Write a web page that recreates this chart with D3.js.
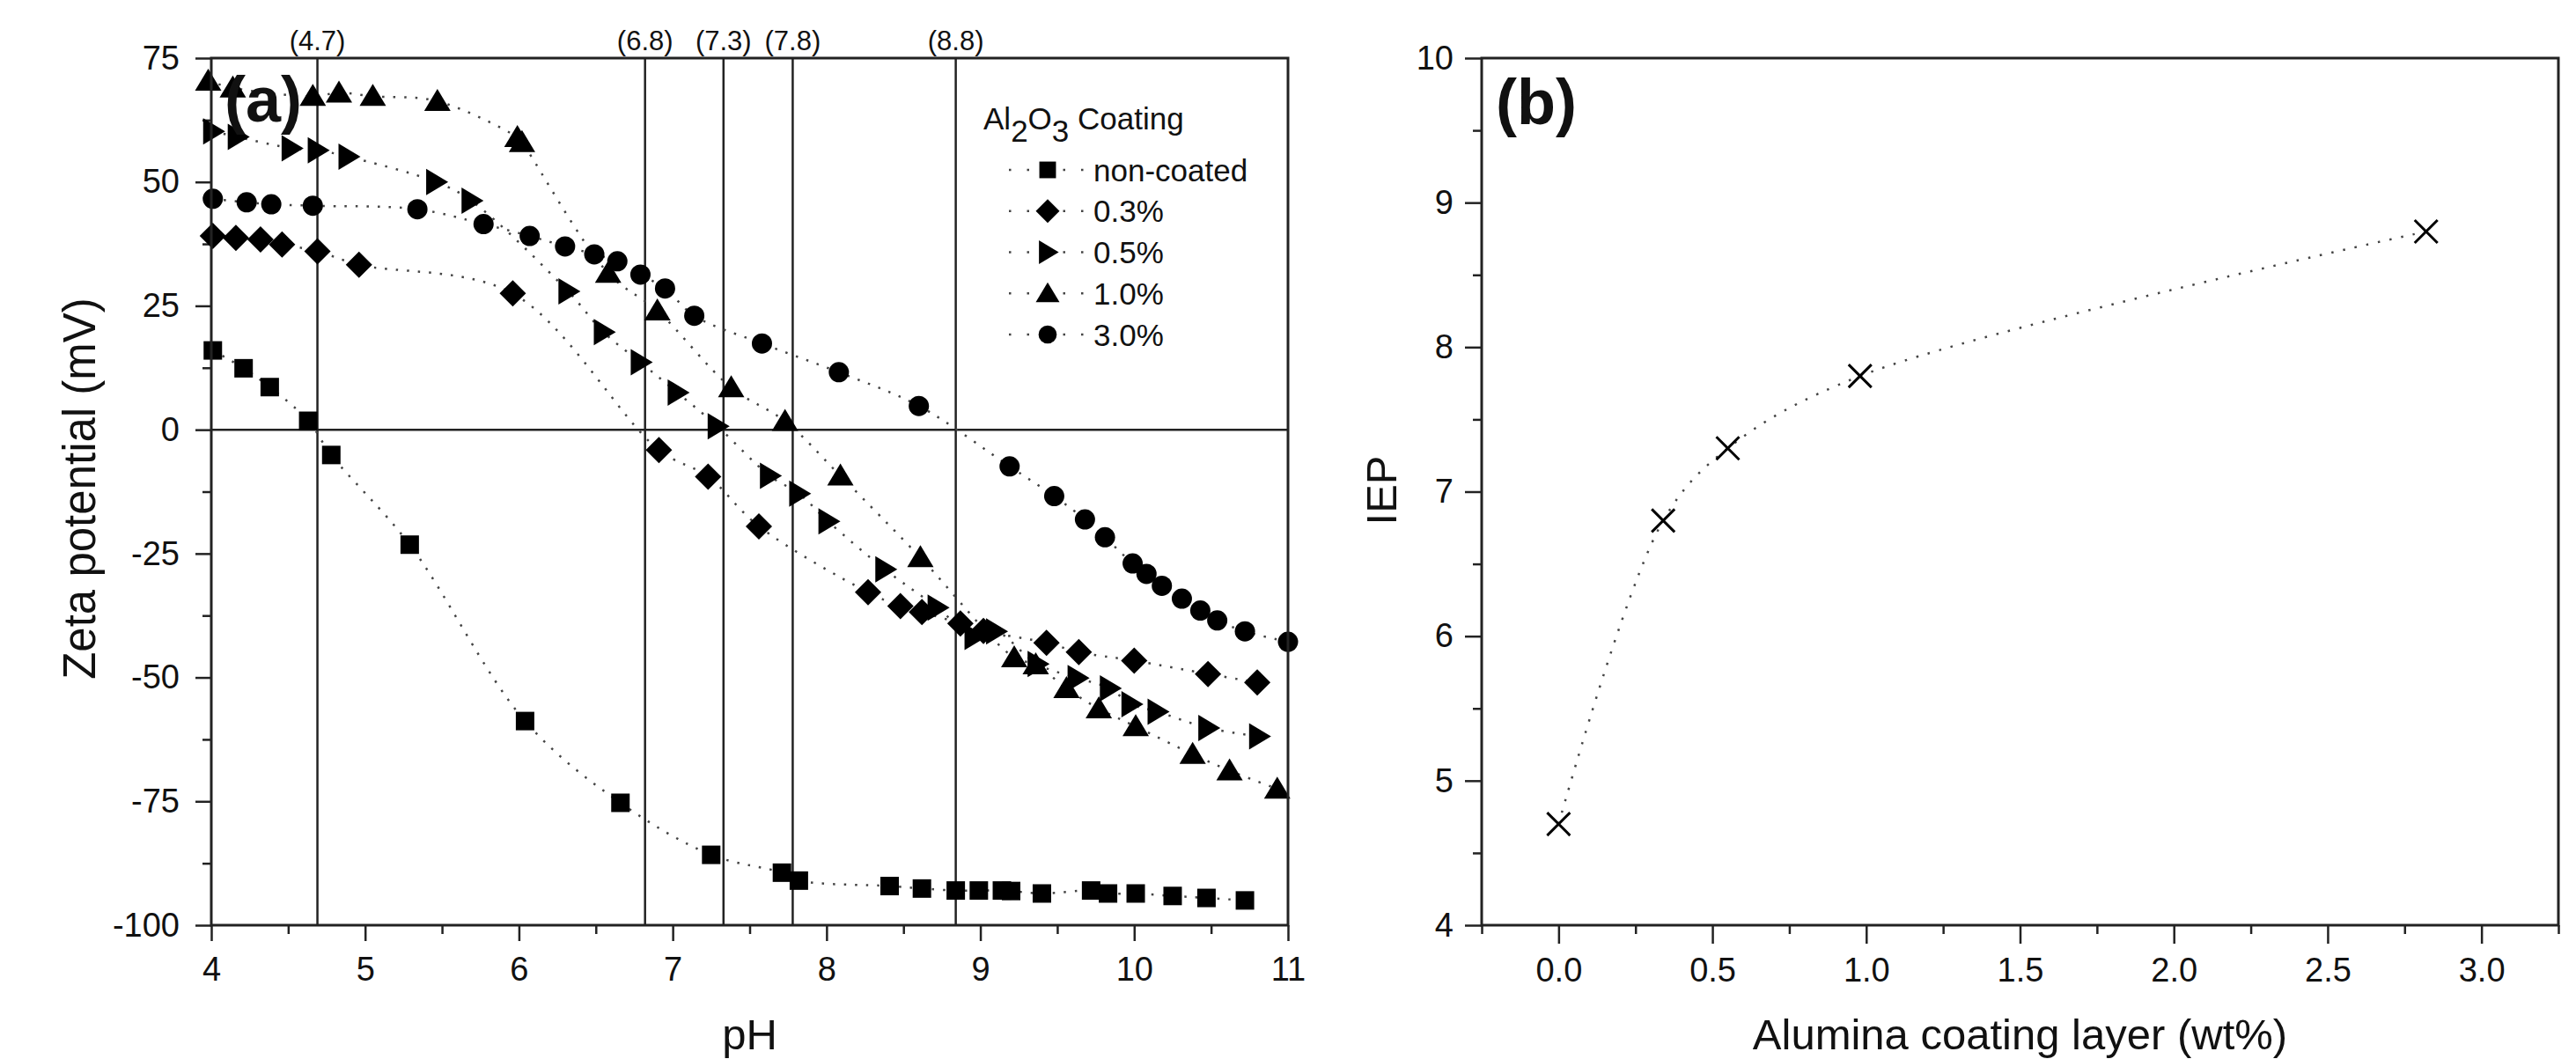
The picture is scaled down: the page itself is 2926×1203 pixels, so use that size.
<!DOCTYPE html>
<html>
<head>
<meta charset="utf-8">
<script src="https://cdn.jsdelivr.net/npm/d3@7"></script>
<style>
  body { margin: 0; background: #fff; }
  text { font-family: "Liberation Sans", Arial, sans-serif; fill: #111; }
</style>
</head>
<body>
<svg id="chart" width="2926" height="1203"></svg>
<script>
// ---- data ----
var seriesNames = ["non-coated", "0.3%", "0.5%", "1.0%", "3.0%"];
var seriesShapes = ["square", "diamond", "right", "up", "circle"];

var nonCoated = [[4.01,16],[4.21,12.4],[4.38,8.6],[4.63,1.8],[4.78,-5.1],[5.29,-23.2],[6.04,-58.8],
  [6.66,-75.3],[7.25,-85.8],[7.71,-89.4],[7.82,-91],[8.41,-92.1],[8.62,-92.6],[8.84,-93],[8.99,-93],
  [9.14,-93],[9.2,-93.1],[9.4,-93.6],[9.72,-93],[9.83,-93.6],[10.01,-93.6],[10.25,-94.1],[10.47,-94.5],[10.72,-95]];
var coat03 = [[4.01,39.1],[4.16,38.7],[4.32,38.4],[4.46,37.4],[4.69,36],[4.96,33.3],[5.96,27.5],
  [6.91,-4.1],[7.23,-9.5],[7.56,-19.5],[8.27,-32.8],[8.48,-35.6],[8.62,-36.8],[8.87,-39.1],[9.02,-40.6],
  [9.43,-43],[9.64,-44.9],[10.0,-46.6],[10.48,-49.3],[10.8,-51]];
var coat05 = [[4.01,60.2],[4.17,59.1],[4.52,56.8],[4.69,56.4],[4.89,55.1],[5.46,50],[5.69,46.2],
  [6.32,27.9],[6.55,19.7],[6.79,13.6],[7.03,7.5],[7.29,0.7],[7.63,-9.3],[7.82,-12.9],[8.01,-18.5],
  [8.38,-28.2],[8.72,-35.9],[8.96,-41.8],[9.1,-40.7],[9.37,-47.3],[9.63,-50.1],[9.84,-52.2],[9.98,-55.4],
  [10.15,-56.9],[10.48,-60.2],[10.81,-61.9]];
var coat10 = [[3.98,70.4],[4.14,69],[4.66,67.3],[4.83,68],[5.05,67.3],[5.47,66.3],[5.99,59],[6.02,58],
  [6.58,31.6],[6.9,24],[7.38,8.5],[7.73,1.7],[8.09,-9.3],[8.61,-25.8],[9.22,-46],[9.36,-47.4],
  [9.56,-52.2],[9.77,-56.3],[10.01,-59.9],[10.38,-65.5],[10.62,-68.8],[10.93,-72.5]];
var coat30 = [[4.01,46.6],[4.23,45.9],[4.39,45.5],[4.66,45.2],[5.34,44.5],[5.77,41.5],[6.07,39.1],
  [6.3,37],[6.49,35.4],[6.64,34],[6.79,31.3],[6.95,28.5],[7.14,23],[7.58,17.4],[8.08,11.6],[8.6,4.8],
  [9.19,-7.4],[9.48,-13.4],[9.68,-18.1],[9.81,-21.7],[9.99,-27],[10.08,-29.1],[10.18,-31.5],[10.31,-34.1],
  [10.43,-36.5],[10.54,-38.5],[10.72,-40.7],[11.0,-42.8]];
var allSeries = [nonCoated, coat03, coat05, coat10, coat30];

var iepPH = [4.69, 6.82, 7.33, 7.78, 8.84];
var iepLabels = ["(4.7)", "(6.8)", "(7.3)", "(7.8)", "(8.8)"];

var coatingWt = [0, 0.34, 0.55, 0.98, 2.82];
var iepValues = [4.7, 6.8, 7.3, 7.8, 8.8];

var phTicks = [4, 5, 6, 7, 8, 9, 10, 11];
var zetaTicks = [-100, -75, -50, -25, 0, 25, 50, 75];
var wtTicks = [0, 0.5, 1.0, 1.5, 2.0, 2.5, 3.0];
var iepTicks = [4, 5, 6, 7, 8, 9, 10];

// ---- layout ----
var svg = d3.select("#chart");
svg.append("rect").attr("width", 2926).attr("height", 1203).attr("fill", "#fff");

var plotTop = 66, plotBottom = 1051;

function markerPath(shape, k) {
  var k = k ? k : 1;
  if (shape == "square") { var s = 10.5 * k; return `M${-s},${-s}H${s}V${s}H${-s}Z`; }
  if (shape == "diamond") { var s = 15 * k; return `M0,${-s}L${s},0L0,${s}L${-s},0Z`; }
  if (shape == "right") { return `M${-11*k},${-15*k}L${14*k},0L${-11*k},${15*k}Z`; }
  if (shape == "up") { return `M0,${-14*k}L${15*k},${11*k}L${-15*k},${11*k}Z`; }
  var r = 11.5 * k;
  return `M${-r},0A${r},${r} 0 1,0 ${r},0A${r},${r} 0 1,0 ${-r},0Z`;
}

function styleAxis(g) {
  g.select(".domain").remove();
  g.selectAll(".tick line").attr("stroke", "#222").attr("stroke-width", 2.5);
  g.selectAll(".tick text").attr("fill", "#111").style("font-family", "Liberation Sans, Arial, sans-serif");
}

// plain hyphen minus like the original figure
var intLabel = d => String(d);

// ---- panel (a) ----
var xa = d3.scaleLinear().domain([4, 11]).range([240, 1463]);
var ya = d3.scaleLinear().domain([-100, 75]).range([plotBottom, plotTop]);

var pa = svg.append("g");

pa.append("g").attr("transform", `translate(0,${plotBottom})`)
  .call(d3.axisBottom(xa).tickValues(d3.range(4.5, 11, 1)).tickSize(10).tickFormat(""))
  .call(styleAxis);
pa.append("g").attr("transform", `translate(0,${plotBottom})`)
  .call(d3.axisBottom(xa).tickValues(phTicks).tickSize(18).tickPadding(18).tickFormat(intLabel))
  .call(styleAxis)
  .style("font-size", "38px");
pa.append("g").attr("transform", "translate(240,0)")
  .call(d3.axisLeft(ya).tickValues(d3.range(-87.5, 75, 25)).tickSize(10).tickFormat(""))
  .call(styleAxis);
pa.append("g").attr("transform", "translate(240,0)")
  .call(d3.axisLeft(ya).tickValues(zetaTicks).tickSize(18).tickPadding(18).tickFormat(intLabel))
  .call(styleAxis)
  .style("font-size", "38px");

// zero line and IEP lines
pa.append("line").attr("x1", xa(4)).attr("x2", xa(11)).attr("y1", ya(0)).attr("y2", ya(0))
  .attr("stroke", "#222").attr("stroke-width", 2.5);
pa.selectAll(".iep").data(iepPH).enter().append("line")
  .attr("x1", d => xa(d)).attr("x2", d => xa(d)).attr("y1", plotTop).attr("y2", plotBottom)
  .attr("stroke", "#222").attr("stroke-width", 2.5);
pa.selectAll(".iepLabel").data(iepPH).enter().append("text")
  .attr("x", d => xa(d)).attr("y", 57)
  .attr("text-anchor", "middle").style("font-size", "31px").attr("fill", "#333")
  .text((d, i) => iepLabels[i]);

// series
var lineA = d3.line().x(d => xa(d[0])).y(d => ya(d[1])).curve(d3.curveCatmullRom.alpha(0.5));
allSeries.forEach(function (data, i) {
  pa.append("path").attr("d", lineA(data)).attr("fill", "none")
    .attr("stroke", "#444").attr("stroke-width", 2.5).attr("stroke-dasharray", "2.5,10");
});
allSeries.forEach(function (data, i) {
  pa.selectAll(".m" + i).data(data).enter().append("path")
    .attr("transform", d => `translate(${xa(d[0])},${ya(d[1])})`)
    .attr("d", markerPath(seriesShapes[i])).attr("fill", "#000");
});

pa.append("rect").attr("x", 240).attr("y", plotTop).attr("width", 1463 - 240).attr("height", plotBottom - plotTop)
  .attr("fill", "none").attr("stroke", "#222").attr("stroke-width", 3);

pa.append("text").attr("x", 255).attr("y", 138).style("font-size", "72px").style("font-weight", "bold").text("(a)");

pa.append("text").attr("x", xa(7.5)).attr("y", 1192).attr("text-anchor", "middle")
  .style("font-size", "49px").text("pH");
pa.append("text").attr("transform", "translate(108,555) rotate(-90)").attr("text-anchor", "middle")
  .style("font-size", "51px").text("Zeta potential (mV)");

// legend
var leg = pa.append("g");
var title = leg.append("text").attr("x", 1117).attr("y", 147).style("font-size", "35px");
title.append("tspan").text("Al");
title.append("tspan").attr("dy", 14).text("2");
title.append("tspan").attr("dy", -14).text("O");
title.append("tspan").attr("dy", 14).text("3");
title.append("tspan").attr("dy", -14).text(" Coating");
var rowY = d3.scalePoint().domain(seriesNames).range([193, 380]);
seriesNames.forEach(function (name, i) {
  var y = rowY(name);
  leg.append("line").attr("x1", 1146).attr("x2", 1232).attr("y1", y).attr("y2", y)
    .attr("stroke", "#444").attr("stroke-width", 2.5).attr("stroke-dasharray", "2.5,18");
  leg.append("path").attr("transform", `translate(1190,${y})`)
    .attr("d", markerPath(seriesShapes[i], 0.9)).attr("fill", "#000");
  leg.append("text").attr("x", 1242).attr("y", y).attr("dy", "0.36em").style("font-size", "35px").text(name);
});

// ---- panel (b) ----
var xb = d3.scaleLinear().domain([-0.25, 3.25]).range([1683, 2906]);
var yb = d3.scaleLinear().domain([4, 10]).range([plotBottom, plotTop]);
var pb = svg.append("g");

pb.append("g").attr("transform", `translate(0,${plotBottom})`)
  .call(d3.axisBottom(xb).tickValues(d3.range(-0.25, 3.3, 0.5)).tickSize(10).tickFormat(""))
  .call(styleAxis);
pb.append("g").attr("transform", `translate(0,${plotBottom})`)
  .call(d3.axisBottom(xb).tickValues(wtTicks).tickSize(21).tickPadding(16).tickFormat(d3.format(".1f")))
  .call(styleAxis)
  .style("font-size", "38px");
pb.append("g").attr("transform", "translate(1683,0)")
  .call(d3.axisLeft(yb).tickValues(d3.range(4.5, 10, 1)).tickSize(10).tickFormat(""))
  .call(styleAxis);
pb.append("g").attr("transform", "translate(1683,0)")
  .call(d3.axisLeft(yb).tickValues(iepTicks).tickSize(19).tickPadding(13).tickFormat(intLabel))
  .call(styleAxis)
  .style("font-size", "38px");

var pointsB = coatingWt.map((d, i) => [d, iepValues[i]]);
var lineB = d3.line().x(d => xb(d[0])).y(d => yb(d[1])).curve(d3.curveCatmullRom.alpha(0.5));
pb.append("path").attr("d", lineB(pointsB)).attr("fill", "none")
  .attr("stroke", "#444").attr("stroke-width", 2.5).attr("stroke-dasharray", "2.5,11");
pb.selectAll(".x").data(pointsB).enter().append("path")
  .attr("transform", d => `translate(${xb(d[0])},${yb(d[1])})`)
  .attr("d", "M-13,-13L13,13M13,-13L-13,13")
  .attr("stroke", "#000").attr("stroke-width", 3).attr("fill", "none");

pb.append("rect").attr("x", 1683).attr("y", plotTop).attr("width", 2906 - 1683).attr("height", plotBottom - plotTop)
  .attr("fill", "none").attr("stroke", "#222").attr("stroke-width", 3);

pb.append("text").attr("x", 1699).attr("y", 141).style("font-size", "72px").style("font-weight", "bold").text("(b)");
pb.append("text").attr("x", xb(1.5)).attr("y", 1192).attr("text-anchor", "middle")
  .style("font-size", "49px").text("Alumina coating layer (wt%)");
pb.append("text").attr("transform", "translate(1586,557) rotate(-90)").attr("text-anchor", "middle")
  .style("font-size", "49px").text("IEP");
</script>
</body>
</html>
